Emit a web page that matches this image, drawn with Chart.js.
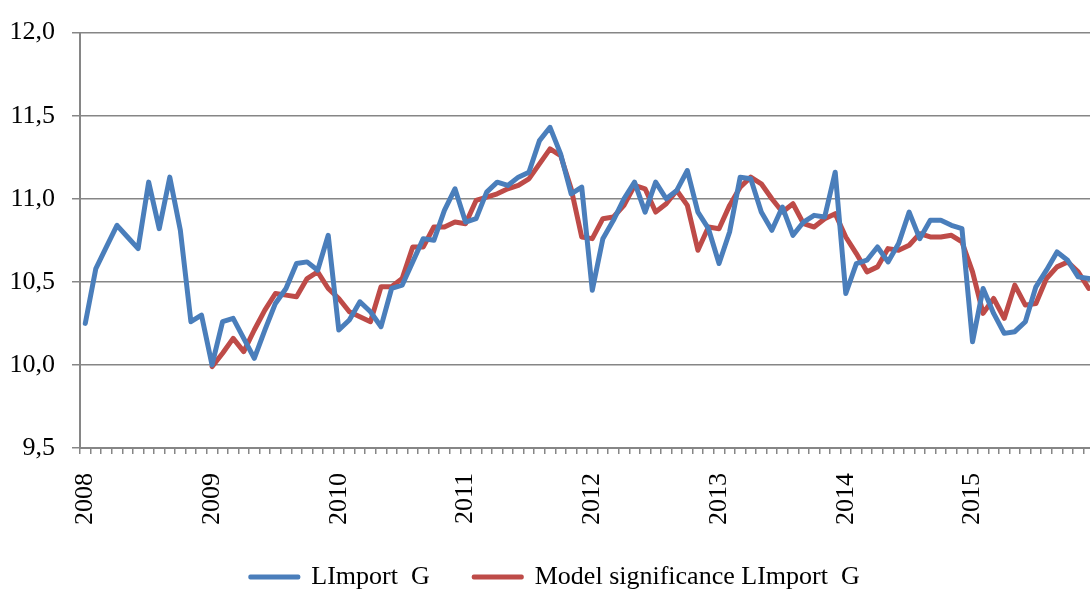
<!DOCTYPE html>
<html><head><meta charset="utf-8">
<script src="https://cdn.jsdelivr.net/npm/chart.js@4"></script>
<style>html,body{margin:0;padding:0;overflow:hidden;background:#fff;width:1090px;height:590px}canvas{display:block}</style>
</head><body>
<canvas id="c" width="1094" height="590"></canvas>
<script>
const years = [2008, 2009, 2010, 2011, 2012, 2013, 2014, 2015];
const categories = [];
years.forEach(y => { for (let m = 1; m <= 12; m++) categories.push(y + '-' + String(m).padStart(2, '0')); });

const importValues = [
  10.25, 10.58, 10.71, 10.84, 10.77, 10.70, 11.10, 10.82, 11.13, 10.81, 10.26, 10.30,
  10.00, 10.26, 10.28, 10.16, 10.04, 10.21, 10.37, 10.46, 10.61, 10.62, 10.57, 10.78,
  10.21, 10.27, 10.38, 10.32, 10.23, 10.46, 10.48, 10.62, 10.76, 10.75, 10.93, 11.06,
  10.86, 10.88, 11.04, 11.10, 11.08, 11.13, 11.16, 11.35, 11.43, 11.27, 11.03, 11.07,
  10.45, 10.76, 10.87, 11.00, 11.10, 10.92, 11.10, 11.00, 11.05, 11.17, 10.92, 10.82,
  10.61, 10.80, 11.13, 11.12, 10.92, 10.81, 10.95, 10.78, 10.86, 10.90, 10.89, 11.16,
  10.43, 10.61, 10.63, 10.71, 10.62, 10.73, 10.92, 10.76, 10.87, 10.87, 10.84, 10.82,
  10.14, 10.46, 10.31, 10.19, 10.20, 10.26, 10.47, 10.57, 10.68, 10.63, 10.53, 10.52
];
const modelValues = [
  null, null, null, null, null, null, null, null, null, null, null, null,
  9.99, 10.07, 10.16, 10.08, 10.21, 10.33, 10.43, 10.42, 10.41, 10.52, 10.56, 10.46,
  10.40, 10.32, 10.29, 10.26, 10.47, 10.47, 10.52, 10.71, 10.71, 10.83, 10.83, 10.86,
  10.85, 10.99, 11.01, 11.03, 11.06, 11.08, 11.12, 11.21, 11.30, 11.26, 11.06, 10.77,
  10.76, 10.88, 10.89, 10.96, 11.08, 11.06, 10.92, 10.97, 11.05, 10.96, 10.69, 10.83,
  10.82, 10.96, 11.07, 11.13, 11.09, 11.00, 10.92, 10.97, 10.85, 10.83, 10.88, 10.91,
  10.77, 10.67, 10.56, 10.59, 10.70, 10.69, 10.72, 10.79, 10.77, 10.77, 10.78, 10.74,
  10.56, 10.31, 10.40, 10.28, 10.48, 10.36, 10.37, 10.52, 10.59, 10.62, 10.56, 10.46
];
const yTicks = [9.5, 10.0, 10.5, 11.0, 11.5, 12.0];
const seriesNames = ['LImport  G', 'Model significance LImport  G'];

const BLUE = '#4A7EBB', RED = '#BE4B48', GRID = '#868686';
Chart.defaults.font.family = "'Liberation Serif', 'Times New Roman', serif";
Chart.defaults.color = '#000';

const legendShift = {
  id: 'legendShift',
  afterLayout(chart) {
    const lg = chart.legend;
    if (lg) { lg.left += 8; lg.right += 8; lg.top -= 8; lg.bottom -= 8; }
  }
};

new Chart(document.getElementById('c'), {
  type: 'line',
  plugins: [legendShift],
  data: {
    labels: categories,
    datasets: [
      { label: seriesNames[0], data: importValues, borderColor: BLUE, backgroundColor: BLUE,
        borderWidth: 5, pointRadius: 0, tension: 0, borderJoinStyle: 'round', borderCapStyle: 'round' },
      { label: seriesNames[1], data: modelValues, borderColor: RED, backgroundColor: RED,
        borderWidth: 5, pointRadius: 0, tension: 0, borderJoinStyle: 'round', borderCapStyle: 'round', spanGaps: false }
    ]
  },
  options: {
    responsive: false, animation: false, devicePixelRatio: 1,
    layout: { padding: { left: 0, right: 0, top: 22, bottom: -18 } },
    plugins: {
      tooltip: { enabled: false },
      legend: {
        position: 'bottom',
        labels: {
          boxWidth: 48, boxHeight: 1, padding: 44, color: '#000',
          font: { size: 26, family: "'Liberation Serif', 'Times New Roman', serif" },
          generateLabels: (chart) => chart.data.datasets.map((ds, i) => ({
            text: ds.label, fillStyle: ds.borderColor, strokeStyle: ds.borderColor,
            lineWidth: 4, lineCap: 'round', lineJoin: 'round', hidden: false, datasetIndex: i
          }))
        }
      }
    },
    scales: {
      x: {
        offset: true,
        grid: { offset: true, drawOnChartArea: false, drawTicks: true, tickLength: 6, color: GRID, lineWidth: 1.5 },
        border: { display: true, color: GRID, width: 2 },
        ticks: {
          autoSkip: false, minRotation: 90, maxRotation: 90, padding: 19, color: '#000',
          font: { size: 26 },
          callback: (v, i) => categories[i].endsWith('-01') ? categories[i].slice(0, 4) : ''
        },
        afterFit: (s) => { s.height = 80; s.paddingLeft = 0; s.paddingRight = 0; }
      },
      y: {
        min: 9.5, max: 12,
        afterBuildTicks: (s) => { s.ticks = yTicks.map(v => ({ value: v })); },
        grid: { color: GRID, lineWidth: 1.5, tickLength: 8 },
        border: { display: true, color: GRID, width: 2 },
        ticks: { padding: 17, color: '#000', font: { size: 26 },
          callback: (v) => Number(v).toFixed(1).replace('.', ',') },
        afterFit: (s) => { s.width = 80; }
      }
    }
  }
});
</script>
</body></html>
